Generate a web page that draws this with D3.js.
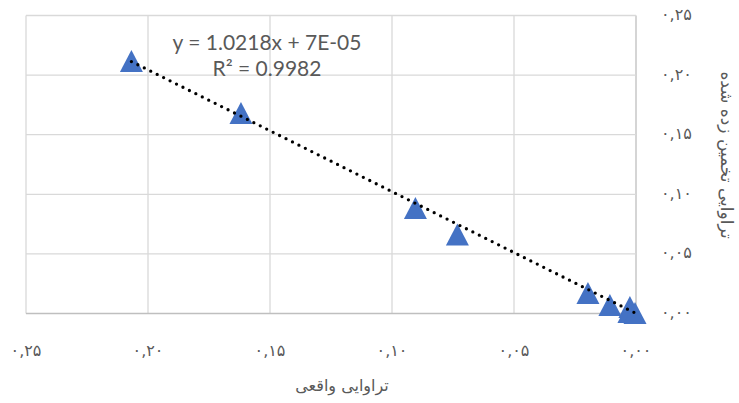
<!DOCTYPE html>
<html>
<head>
<meta charset="utf-8">
<script src="https://cdn.jsdelivr.net/npm/d3@7"></script>
<style>
  body { margin: 0; background: #fff; }
  svg { display: block; }
</style>
</head>
<body>
<div class="chart"></div>
<script>
// data
const actual    = [0.2068, 0.1619, 0.0904, 0.0732, 0.0197, 0.0107, 0.0025, 0.0029, 0.0004];
const estimated = [0.2118, 0.1682, 0.0885, 0.0663, 0.0172, 0.0071, 0.0055, 0.0013, 0.0004];
const tickValues = [0, 0.05, 0.10, 0.15, 0.20, 0.25];
const trendSlope = 1.0218;
const trendIntercept = 0.00007;
const trendLabels = ["y = 1.0218x + 7E-05", "R² = 0.9982"];
const xTitle = "تراوایی واقعی";
const yTitle = "تراوایی تخمین زده شده";

const points = actual.map((a, i) => ({x: a, y: estimated[i]}));

const width = 739, height = 403;
const svg = d3.select(".chart").append("svg")
    .attr("width", width)
    .attr("height", height);

// x runs right to left, value axis sits on the right
const xScale = d3.scaleLinear().domain([0.25, 0]).range([26, 636]);
const yScale = d3.scaleLinear().domain([0, 0.25]).range([313.5, 15.5]);

// persian digits with comma decimal
const fa = "۰۱۲۳۴۵۶۷۸۹";
const fmt = v => d3.format(".2f")(v).replace(/\d/g, d => fa[+d]).replace(".", ",");

// gridlines
svg.append("g").selectAll("line").data(tickValues).join("line")
    .attr("x1", d => xScale(d)).attr("x2", d => xScale(d))
    .attr("y1", yScale(0.25)).attr("y2", yScale(0))
    .attr("stroke", d => d === 0 ? "#bfbfbf" : "#d9d9d9")
    .attr("stroke-width", 1.3);

svg.append("g").selectAll("line").data(tickValues).join("line")
    .attr("x1", xScale(0.25)).attr("x2", xScale(0))
    .attr("y1", d => yScale(d)).attr("y2", d => yScale(d))
    .attr("stroke", d => d === 0 ? "#bfbfbf" : "#d9d9d9")
    .attr("stroke-width", 1.3);

// tick labels
svg.append("g").selectAll("text").data(tickValues).join("text")
    .attr("x", d => xScale(d))
    .attr("y", 351)
    .attr("text-anchor", "middle")
    .attr("dominant-baseline", "middle")
    .attr("font-family", "DejaVu Sans")
    .attr("font-size", 16)
    .attr("fill", "#595959")
    .text(fmt);

svg.append("g").selectAll("text").data(tickValues).join("text")
    .attr("x", 661)
    .attr("y", d => yScale(d))
    .attr("text-anchor", "start")
    .attr("dominant-baseline", "middle")
    .attr("font-family", "DejaVu Sans")
    .attr("font-size", 16)
    .attr("fill", "#595959")
    .text(fmt);

// markers: triangles in a 23x22 box
const tw = 23, th = 22;
const tri = `M0,${-th / 2}L${tw / 2},${th / 2}L${-tw / 2},${th / 2}Z`;
svg.append("g").selectAll("path").data(points).join("path")
    .attr("transform", d => `translate(${xScale(d.x)},${yScale(d.y)})`)
    .attr("d", tri)
    .attr("fill", "#4472c4");

// linear trendline, dotted
const xExt = d3.extent(actual);
const line = d3.line().x(d => xScale(d)).y(d => yScale(trendSlope * d + trendIntercept));
svg.append("path")
    .attr("d", line([xExt[1], xExt[0]]))
    .attr("fill", "none")
    .attr("stroke", "#000")
    .attr("stroke-width", 3.3)
    .attr("stroke-linecap", "round")
    .attr("stroke-dasharray", "0 7.2");

// trendline label
svg.append("g").selectAll("text").data(trendLabels).join("text")
    .attr("x", 267)
    .attr("y", (d, i) => 50 + i * 26)
    .attr("text-anchor", "middle")
    .attr("font-family", "Lato, 'Open Sans', sans-serif")
    .attr("font-size", 21)
    .attr("fill", "#595959")
    .text(d => d);

// axis titles
svg.append("text")
    .attr("x", 342)
    .attr("y", 391)
    .attr("text-anchor", "middle")
    .attr("direction", "rtl")
    .attr("font-family", "DejaVu Sans")
    .attr("font-size", 16)
    .attr("fill", "#595959")
    .text(xTitle);

svg.append("text")
    .attr("transform", "translate(721,155) rotate(90)")
    .attr("text-anchor", "middle")
    .attr("direction", "rtl")
    .attr("font-family", "DejaVu Sans")
    .attr("font-size", 17)
    .attr("fill", "#595959")
    .text(yTitle);
</script>
</body>
</html>
